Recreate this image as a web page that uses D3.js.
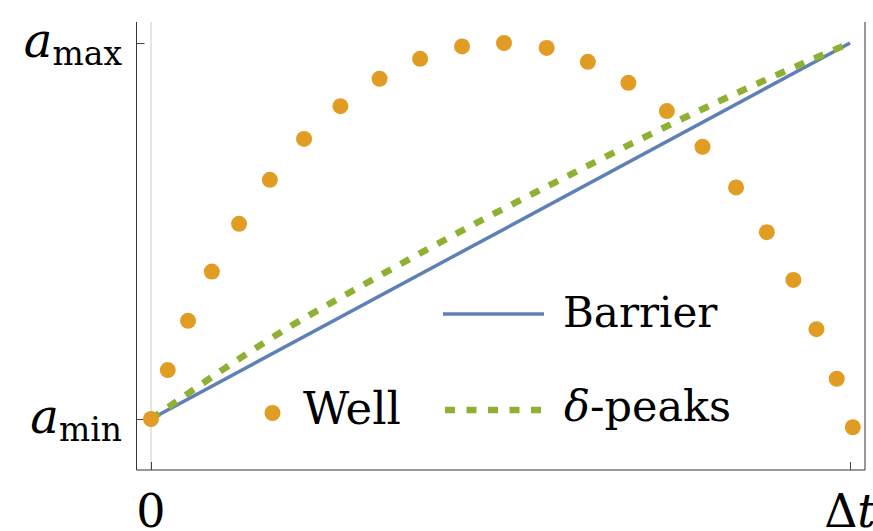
<!DOCTYPE html>
<html>
<head>
<meta charset="utf-8">
<script src="https://cdn.jsdelivr.net/npm/d3@7"></script>
<style>
  body { margin: 0; background: #fff; }
</style>
</head>
<body>
<div id="chart"></div>
<script>
// values (a normalised: a_min = 0, a_max = 1; t normalised: 0..Δt = 0..1)
const wellX = [0, 0.024, 0.053, 0.087, 0.126, 0.170, 0.219, 0.271, 0.327, 0.385, 0.445, 0.505,
               0.566, 0.625, 0.683, 0.738, 0.789, 0.837, 0.881, 0.919, 0.952, 0.981, 1.004];
const wellY = [0, 0.130, 0.261, 0.392, 0.519, 0.636, 0.745, 0.832, 0.905, 0.958, 0.991, 1.0,
               0.987, 0.950, 0.894, 0.819, 0.724, 0.616, 0.497, 0.370, 0.239, 0.107, -0.022];
const barrierX = [0, 1];
const barrierY = [0, 1];
const peaksX = [0, 0.05, 0.1, 0.15, 0.2, 0.3, 0.4, 0.5, 0.6, 0.7, 0.8, 0.9, 1.0];
const peaksY = [0, 0.064, 0.128, 0.189, 0.247, 0.353, 0.456, 0.555, 0.650, 0.744, 0.834, 0.919, 1.0];

const xTicks = [0, 1];
const xTickLabels = ["0", "Δt"];
const yTicks = [0, 1];
const yTickSubs = ["min", "max"];

const W = 873, H = 531;
const frame = { left: 136.5, right: 865, top: 22, bottom: 470 };
const serif = "DejaVu Serif";

const blue = "#5E81B5", orange = "#E19C24", green = "#8FB032";

const svg = d3.select("#chart").append("svg")
    .attr("width", W)
    .attr("height", H)
    .attr("font-family", serif);

const x = d3.scaleLinear().domain([0, 1]).range([151, 850]);
const y = d3.scaleLinear().domain([0, 1]).range([419, 43]);

// grey line at t = 0
svg.append("line")
    .attr("x1", x(0)).attr("x2", x(0))
    .attr("y1", frame.top).attr("y2", frame.bottom)
    .attr("stroke", "#dcdcdc")
    .attr("stroke-width", 1.5);

// frame (left, bottom, right)
svg.append("path")
    .attr("d", `M${frame.left},${frame.top}V${frame.bottom}H${frame.right}V${frame.top}`)
    .attr("fill", "none")
    .attr("stroke", "#333")
    .attr("stroke-width", 1);

// ticks through d3 axes, drawn inward
const yAxis = svg.append("g")
    .attr("transform", `translate(${frame.left},0)`)
    .call(d3.axisLeft(y).tickValues(yTicks).tickSize(-8).tickFormat(""));
yAxis.select(".domain").remove();
yAxis.selectAll(".tick line").attr("stroke", "#444");

const xAxis = svg.append("g")
    .attr("transform", `translate(0,${frame.bottom})`)
    .call(d3.axisBottom(x).tickValues(xTicks).tickSize(-8).tickFormat(""));
xAxis.select(".domain").remove();
xAxis.selectAll(".tick line").attr("stroke", "#444");

// y tick labels: a_min, a_max
yTicks.forEach((v, i) => {
  const t = svg.append("text")
      .attr("x", 122)
      .attr("y", y(v) + 14)
      .attr("text-anchor", "end");
  t.append("tspan")
      .attr("font-size", 48)
      .attr("font-style", "italic")
      .text("a");
  t.append("tspan")
      .attr("font-size", 33)
      .attr("dy", 8)
      .text(yTickSubs[i]);
});

// x tick labels
xTicks.forEach((v, i) => {
  const t = svg.append("text")
      .attr("x", x(v))
      .attr("y", 527)
      .attr("text-anchor", "middle")
      .attr("font-size", 46);
  if (xTickLabels[i] === "Δt") {
    t.append("tspan").text("Δ");
    t.append("tspan").attr("font-style", "italic").text("t");
  } else {
    t.text(xTickLabels[i]);
  }
});

// series
const barrier = barrierX.map((d, i) => [d, barrierY[i]]);
const peaks = peaksX.map((d, i) => [d, peaksY[i]]);
const well = wellX.map((d, i) => [d, wellY[i]]);

const line = d3.line()
    .x(d => x(d[0]))
    .y(d => y(d[1]))
    .curve(d3.curveMonotoneX);

svg.append("path")
    .datum(barrier)
    .attr("d", line)
    .attr("fill", "none")
    .attr("stroke", blue)
    .attr("stroke-width", 3.5);

svg.append("path")
    .datum(peaks)
    .attr("d", line)
    .attr("fill", "none")
    .attr("stroke", green)
    .attr("stroke-width", 6.5)
    .attr("stroke-dasharray", "10,11");

svg.selectAll(".well")
    .data(well)
    .enter()
    .append("circle")
    .attr("class", "well")
    .attr("cx", d => x(d[0]))
    .attr("cy", d => y(d[1]))
    .attr("r", 8)
    .attr("fill", orange);

// legend
const legend = svg.append("g").attr("class", "legend");

legend.append("line")
    .attr("x1", 443).attr("x2", 544)
    .attr("y1", 314).attr("y2", 314)
    .attr("stroke", blue)
    .attr("stroke-width", 3.5);
legend.append("text")
    .attr("x", 563).attr("y", 327)
    .attr("font-size", 42)
    .text("Barrier");

legend.append("circle")
    .attr("cx", 272.5).attr("cy", 413)
    .attr("r", 8)
    .attr("fill", orange);
legend.append("text")
    .attr("x", 303).attr("y", 424)
    .attr("font-size", 45)
    .text("Well");

legend.append("line")
    .attr("x1", 445).attr("x2", 541)
    .attr("y1", 410).attr("y2", 410)
    .attr("stroke", green)
    .attr("stroke-width", 6.5)
    .attr("stroke-dasharray", "10,11.5");
const pk = legend.append("text")
    .attr("x", 564).attr("y", 421)
    .attr("font-size", 43);
pk.append("tspan").attr("font-style", "italic").text("δ");
pk.append("tspan").text("-peaks");
</script>
</body>
</html>
